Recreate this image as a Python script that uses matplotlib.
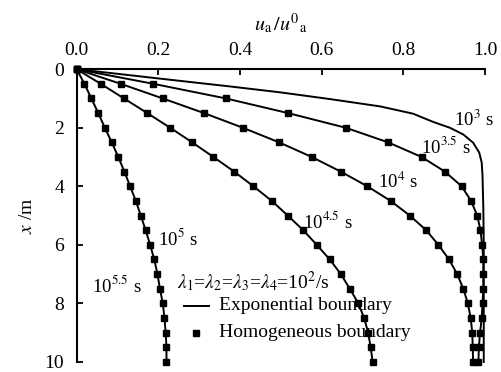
import numpy as np
import matplotlib
matplotlib.use("Agg")
import matplotlib.pyplot as plt

plt.rcParams['font.family'] = ['Liberation Serif', 'DejaVu Serif']
plt.rcParams['mathtext.fontset'] = 'stix'
plt.rcParams['font.size'] = 14

# depth points of the homogeneous-boundary solution (m)
depth = np.arange(0, 10.01, 0.5)

# u_a / u0_a
u_t35 = [0.0, 0.188, 0.366, 0.518, 0.659, 0.763, 0.845, 0.902, 0.943, 0.966, 0.981,
         0.989, 0.993, 0.996, 0.996, 0.996, 0.994, 0.992, 0.988, 0.985, 0.984]
u_t40 = [0.0, 0.108, 0.211, 0.312, 0.407, 0.496, 0.576, 0.647, 0.712, 0.769, 0.816,
         0.856, 0.886, 0.912, 0.932, 0.947, 0.958, 0.965, 0.969, 0.970, 0.971]
u_t45 = [0.0, 0.059, 0.116, 0.173, 0.229, 0.283, 0.335, 0.386, 0.433, 0.478, 0.517,
         0.555, 0.588, 0.620, 0.647, 0.669, 0.690, 0.704, 0.714, 0.720, 0.725]
u_t50 = [0.0, 0.019, 0.036, 0.053, 0.069, 0.086, 0.102, 0.117, 0.131, 0.145, 0.157,
         0.169, 0.180, 0.190, 0.198, 0.204, 0.211, 0.215, 0.218, 0.220, 0.220]

# exponential-boundary curve at 10^3 s (line only)
depth_t30 = [0.0, 0.3, 0.59, 0.79, 1.02, 1.27, 1.52, 1.8, 2.0, 2.23, 2.51, 2.85,
             3.19, 3.64, 4.77, 6.0, 8.0, 10.0]
u_t30 = [0.0, 0.19, 0.376, 0.498, 0.620, 0.743, 0.824, 0.873, 0.914, 0.947, 0.971,
         0.986, 0.992, 0.994, 0.996, 0.997, 0.997, 0.997]

curve_labels = [r'10$^{3}$ s', r'10$^{3.5}$ s', r'10$^{4}$ s', r'10$^{4.5}$ s',
                r'10$^{5}$ s', r'10$^{5.5}$ s']
label_u = [0.973, 0.905, 0.788, 0.616, 0.248, 0.099]
label_x = [1.74, 2.65, 3.86, 5.2, 5.79, 7.38]

fig = plt.figure(figsize=(5.01, 3.72), dpi=100)
ax = fig.add_axes([0.153, 0.027, 0.815, 0.787])

ax.plot(u_t30, depth_t30, color='black', lw=1.4, clip_on=False)
for u in [u_t35, u_t40, u_t45, u_t50]:
    ax.plot(u, depth, color='black', lw=1.4, marker='s', ms=4.3, clip_on=False)

for txt, u, x in zip(curve_labels, label_u, label_x):
    ax.text(u, x, txt, ha='center', va='center', fontsize=13.5)

ax.text(0.245, 7.25, r'$\lambda_1$=$\lambda_2$=$\lambda_3$=$\lambda_4$=10$^2$/s',
        ha='left', va='center', fontsize=14)

# legend drawn by hand
ax.plot([0.262, 0.325], [8.08, 8.08], color='black', lw=1.4)
ax.text(0.349, 8.08, 'Exponential boundary', ha='left', va='center', fontsize=14)
ax.plot([0.292], [9.0], color='black', marker='s', ms=4.3, ls='none')
ax.text(0.349, 9.0, 'Homogeneous boundary', ha='left', va='center', fontsize=14)

ax.set_xlim(0, 1)
ax.set_ylim(10, 0)
ax.xaxis.tick_top()
ax.xaxis.set_label_position('top')
ax.set_xticks(np.arange(0, 1.01, 0.2))
ax.set_xticklabels(['%.1f' % v for v in np.arange(0, 1.01, 0.2)])
ax.set_yticks(np.arange(0, 11, 2))
ax.tick_params(direction='in', length=4, width=1.3)
ax.tick_params(axis='x', pad=7)
ax.tick_params(axis='y', pad=9)
ax.set_xlabel(r'$u_{\rm a}\,/u^{0}{}_{\rm a}$', labelpad=9, fontsize=14.5)
ax.set_ylabel(r'$x$ /m', labelpad=6)
for s in ['right', 'bottom']:
    ax.spines[s].set_visible(False)
for s in ['left', 'top']:
    ax.spines[s].set_linewidth(1.5)

fig.savefig('out.png', dpi=100)
